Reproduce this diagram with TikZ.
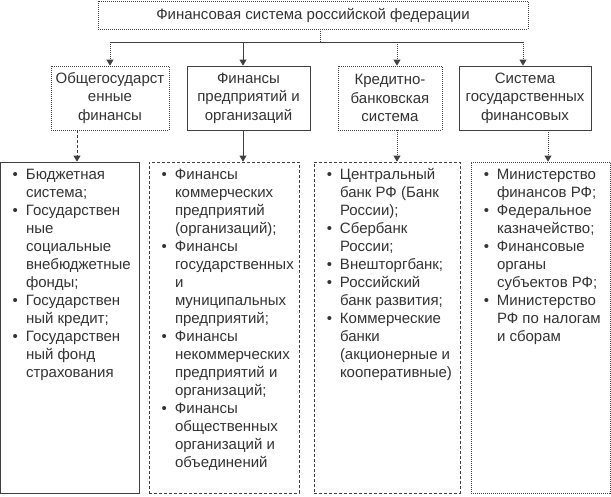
\documentclass[tikz,border=0pt]{standalone}
\usepackage{fontspec}
\setmainfont{Liberation Sans}
\usepackage{xcolor}
\usepackage{tikz}
\usetikzlibrary{positioning, arrows.meta, calc}

% bullet hanging in the left margin of a list line
\newcommand{\bul}{\leavevmode\llap{\textbullet\hspace{8pt}}}
% top-aligned list column of a fixed height
\newcommand{\itemcol}[2]{\parbox[c][331pt][t]{#1}{\raggedright\leftskip=26pt\rightskip=0pt plus 1fil\rule{0pt}{17pt}#2}}

\begin{document}
\begin{tikzpicture}[x=1pt, y=-1pt,
        font=\fontsize{15}{18}\selectfont, text=black!80,
        box/.style={draw=black!75, line width=0.8pt, inner sep=0pt},
        head/.style={box, minimum width=430pt, minimum height=28pt},
        branch/.style={box, align=center, minimum height=64pt, font=\fontsize{15}{18.5}\selectfont},
        listbox/.style={box, minimum height=331pt},
        dots/.style={dash pattern=on 1pt off 1pt},
        dashes/.style={dash pattern=on 3pt off 2pt},
        wire/.style={draw=black!75, line width=0.8pt},
        link/.style={wire, -{Triangle[length=6pt, width=7pt]}}
    ]
        \useasboundingbox (0,0) rectangle (611,496);

        % top level
        \node[head, dots] (fin) at (313,15) {Финансовая система российской федерации};

        % second level
        \node[branch, dots, minimum width=118pt] (gov) at (110,98) {Общегосударст\\енные\\финансы};
        \node[branch, minimum width=123pt] (ent) at (248.5,98) {Финансы\\предприятий и\\организаций};
        \node[branch, dots, minimum width=104pt] (bank) at (390,98) {Кредитно-\\банковская\\система};
        \node[branch, minimum width=132pt] (state) at (525,98) {Система\\государственных\\финансовых};

        % third level
        \node[listbox, minimum width=139pt] (govL) at (69.5,327.5) {\itemcol{139pt}{%
            \bul Бюджетная\\ система;\\
            \bul Государствен\\ ные\\ социальные\\ внебюджетные\\ фонды;\\
            \bul Государствен\\ ный кредит;\\
            \bul Государствен\\ ный фонд\\ страхования}};
        \node[listbox, dashes, minimum width=150pt] (entL) at (224,327.5) {\itemcol{150pt}{%
            \bul Финансы\\ коммерческих\\ предприятий\\ (организаций);\\
            \bul Финансы\\ государственных\\ и\\ муниципальных\\ предприятий;\\
            \bul Финансы\\ некоммерческих\\ предприятий и\\ организаций;\\
            \bul Финансы\\ общественных\\ организаций и\\ объединений}};
        \node[listbox, dashes, minimum width=146pt] (bankL) at (387,327.5) {\itemcol{146pt}{%
            \bul Центральный\\ банк РФ (Банк\\ России);\\
            \bul Сбербанк\\ России;\\
            \bul Внешторгбанк;\\
            \bul Российский\\ банк развития;\\
            \bul Коммерческие\\ банки\\ (акционерные и\\ кооперативные)}};
        \node[listbox, dots, minimum width=139pt] (stateL) at (540.5,327.5) {\itemcol{139pt}{%
            \bul Министерство\\ финансов РФ;\\
            \bul Федеральное\\ казначейство;\\
            \bul Финансовые\\ органы\\ субъектов РФ;\\
            \bul Министерство\\ РФ по налогам\\ и сборам}};

        % connector ends
        \coordinate (bus) at (320,42);
        \coordinate (govIn) at (gov.north);
        \coordinate (entIn) at ([xshift=-5.5pt]ent.north);
        \coordinate (bankIn) at ([xshift=7pt]bank.north);
        \coordinate (stateIn) at ([xshift=-2pt]state.north);
        \coordinate (govOut) at ([xshift=-33pt]gov.south);
        \coordinate (entOut) at ([xshift=-5.5pt]ent.south);
        \coordinate (bankOut) at ([xshift=7pt]bank.south);
        \coordinate (stateOut) at ([xshift=23pt]state.south);

        \draw[wire, dots] (fin.south -| bus) -- (bus);
        \draw[wire] (bus -| govIn) -- (bus -| stateIn);
        \draw[link, dots] (bus -| govIn) -- (govIn);
        \draw[link] (bus -| entIn) -- (entIn);
        \draw[link, dots] (bus -| bankIn) -- (bankIn);
        \draw[link, dots] (bus -| stateIn) -- (stateIn);

        \draw[link, dashes] (govOut) -- (govOut |- govL.north);
        \draw[link] (entOut) -- (entOut |- entL.north);
        \draw[link, dots] (bankOut) -- (bankOut |- bankL.north);
        \draw[link, dots] (stateOut) -- (stateOut |- stateL.north);
    \end{tikzpicture}
\end{document}
